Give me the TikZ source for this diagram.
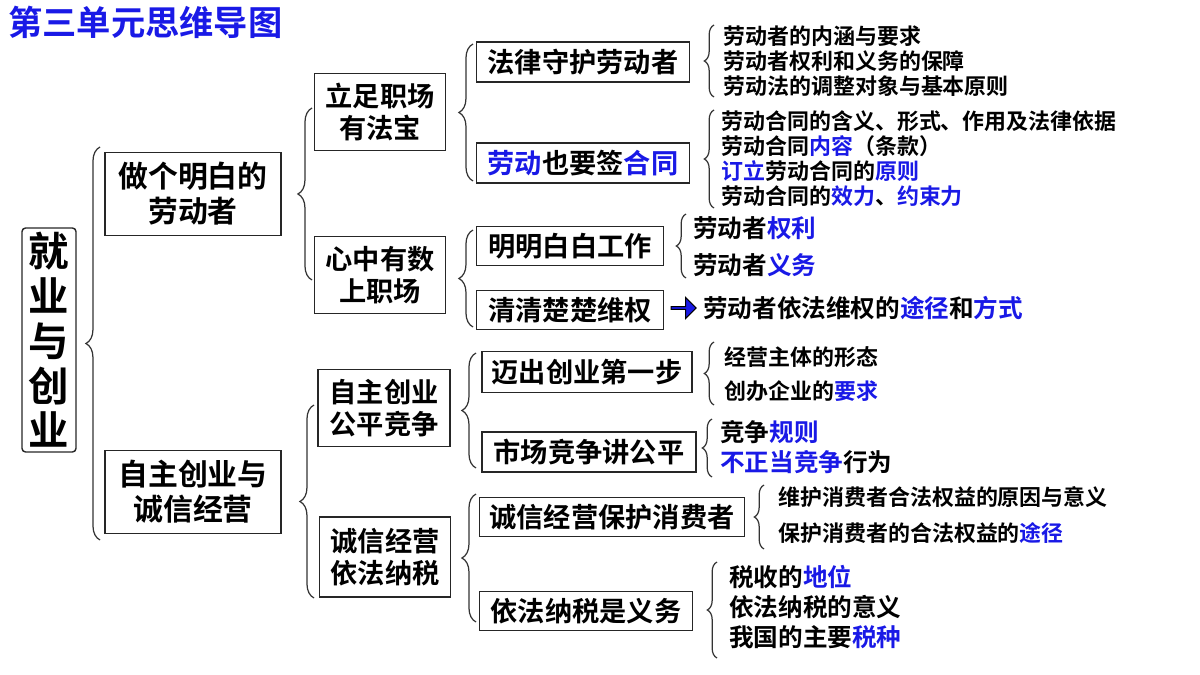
\documentclass[tikz,border=0pt]{standalone}
\usepackage{fontspec}
\setmainfont{Noto Sans CJK SC}[BoldFont={Noto Sans CJK SC Bold}]
\usetikzlibrary{decorations.pathreplacing,shapes.arrows}
\definecolor{bl}{RGB}{25,25,230}
\newcommand{\B}[1]{\textcolor{bl}{#1}}
\begin{document}
\begin{tikzpicture}[x=0.02cm,y=-0.02cm,
  box/.style={draw=black!85,line width=0.8pt,inner sep=1pt,align=center,font=\bfseries\fontsize{15.5pt}{18pt}\selectfont},
  big/.style={box,font=\bfseries\fontsize{17pt}{20pt}\selectfont},
  lf/.style={anchor=west,inner sep=0pt,font=\bfseries\fontsize{12.5pt}{14pt}\selectfont},
  lfb/.style={anchor=west,inner sep=0pt,font=\bfseries\fontsize{14pt}{16pt}\selectfont},
  br/.style={decorate,decoration={brace,amplitude=5.5pt,aspect=0.5},line width=0.7pt,black!80},
  brb/.style={br,decoration={brace,amplitude=8pt}}]
\useasboundingbox (0,0) rectangle (1200,675);
\node[anchor=west,inner sep=0pt,text=bl,font=\bfseries\fontsize{19.5pt}{22pt}\selectfont] (title) at (8,22) {第三单元思维导图};
% main
\node[box,rounded corners=2pt,minimum width=1.08cm,minimum height=4.48cm,font=\bfseries\fontsize{23pt}{25.5pt}\selectfont] (main) at (49,340) {就\\业\\与\\创\\业};
% level 1
\node[big,minimum width=3.52cm,minimum height=1.66cm] (a) at (193,194) {做个明白的\\劳动者};
\node[big,minimum width=3.52cm,minimum height=1.66cm] (b) at (193,492) {自主创业与\\诚信经营};
% level 2
\node[box,minimum width=2.62cm,minimum height=1.54cm] (a1) at (380,112) {立足职场\\有法宝};
\node[box,minimum width=2.62cm,minimum height=1.54cm] (a2) at (380,275) {心中有数\\上职场};
\node[box,minimum width=2.64cm,minimum height=1.54cm] (b1) at (384,408) {自主创业\\公平竞争};
\node[box,minimum width=2.62cm,minimum height=1.6cm] (b2) at (385,557) {诚信经营\\依法纳税};
% level 3
\node[box,minimum width=4.26cm,minimum height=0.8cm] (a11) at (583,62) {法律守护劳动者};
\node[box,minimum width=4.26cm,minimum height=0.8cm] (a12) at (583,163) {\B{劳动}也要签\B{合同}};
\node[box,minimum width=3.74cm,minimum height=0.78cm] (a21) at (570,246) {明明白白工作};
\node[box,minimum width=3.74cm,minimum height=0.78cm] (a22) at (570,310) {清清楚楚维权};
\node[box,minimum width=4.2cm,minimum height=0.82cm] (b11) at (587,372) {迈出创业第一步};
\node[box,minimum width=4.28cm,minimum height=0.8cm] (b12) at (589,452) {市场竞争讲公平};
\node[box,minimum width=5.3cm,minimum height=0.78cm] (b21) at (612,517) {诚信经营保护消费者};
\node[box,minimum width=4.26cm,minimum height=0.78cm] (b22) at (586,611) {依法纳税是义务};
% braces
\draw[brb] (100,540) -- (100,147);
\draw[brb] (312,280) -- (312,108);
\draw[brb] (314,598) -- (314,405);
\draw[brb] (473,181) -- (473,44);
\draw[brb] (473,327) -- (473,230);
\draw[brb] (476,468) -- (476,353);
\draw[brb] (476,622) -- (476,494);
\draw[br] (714,97) -- (714,25);
\draw[br] (714,208) -- (714,110);
\draw[br] (686,278) -- (686,214);
\draw[br] (714,405) -- (714,342);
\draw[br] (712,477) -- (712,419);
\draw[br] (764,549) -- (764,485);
\draw[br] (717,658) -- (717,562);
% leaves
\node[lf] (l1) at (723,36) {劳动者的内涵与要求};
\node[lf] (l2) at (723,61) {劳动者权利和义务的保障};
\node[lf] (l3) at (723,86) {劳动法的调整对象与基本原则};
\node[lf] (l4) at (721,121) {劳动合同的含义、形式、作用及法律依据};
\node[lf] (l5) at (721,146) {劳动合同\B{内容}（条款）};
\node[lf] (l6) at (721,171) {\B{订立}劳动合同的\B{原则}};
\node[lf] (l7) at (721,196) {劳动合同的\B{效力}、\B{约束力}};
\node[lfb] (l8) at (693,228) {劳动者\B{权利}};
\node[lfb] (l9) at (693,265) {劳动者\B{义务}};
\node[single arrow,fill=bl,draw=black,line width=0.6pt,minimum height=0.5cm,minimum width=0.42cm,single arrow head extend=2pt,inner sep=0pt] (arr) at (683,308) {};
\node[lfb] (l10) at (703,308) {劳动者依法维权的\B{途径}和\B{方式}};
\node[lf] (l11) at (724,357) {经营主体的形态};
\node[lf] (l12) at (724,391) {创办企业的\B{要求}};
\node[lfb] (l13) at (720,432) {竞争\B{规则}};
\node[lfb] (l14) at (720,462) {\B{不正当竞争}行为};
\node[lf] (l15) at (778,497) {维护消费者合法权益的原因与意义};
\node[lf] (l16) at (778,533) {保护消费者的合法权益的\B{途径}};
\node[lfb] (l17) at (729,577) {税收的\B{地位}};
\node[lfb] (l18) at (729,607) {依法纳税的意义};
\node[lfb] (l19) at (729,637) {我国的主要\B{税种}};
\end{tikzpicture}
\end{document}
